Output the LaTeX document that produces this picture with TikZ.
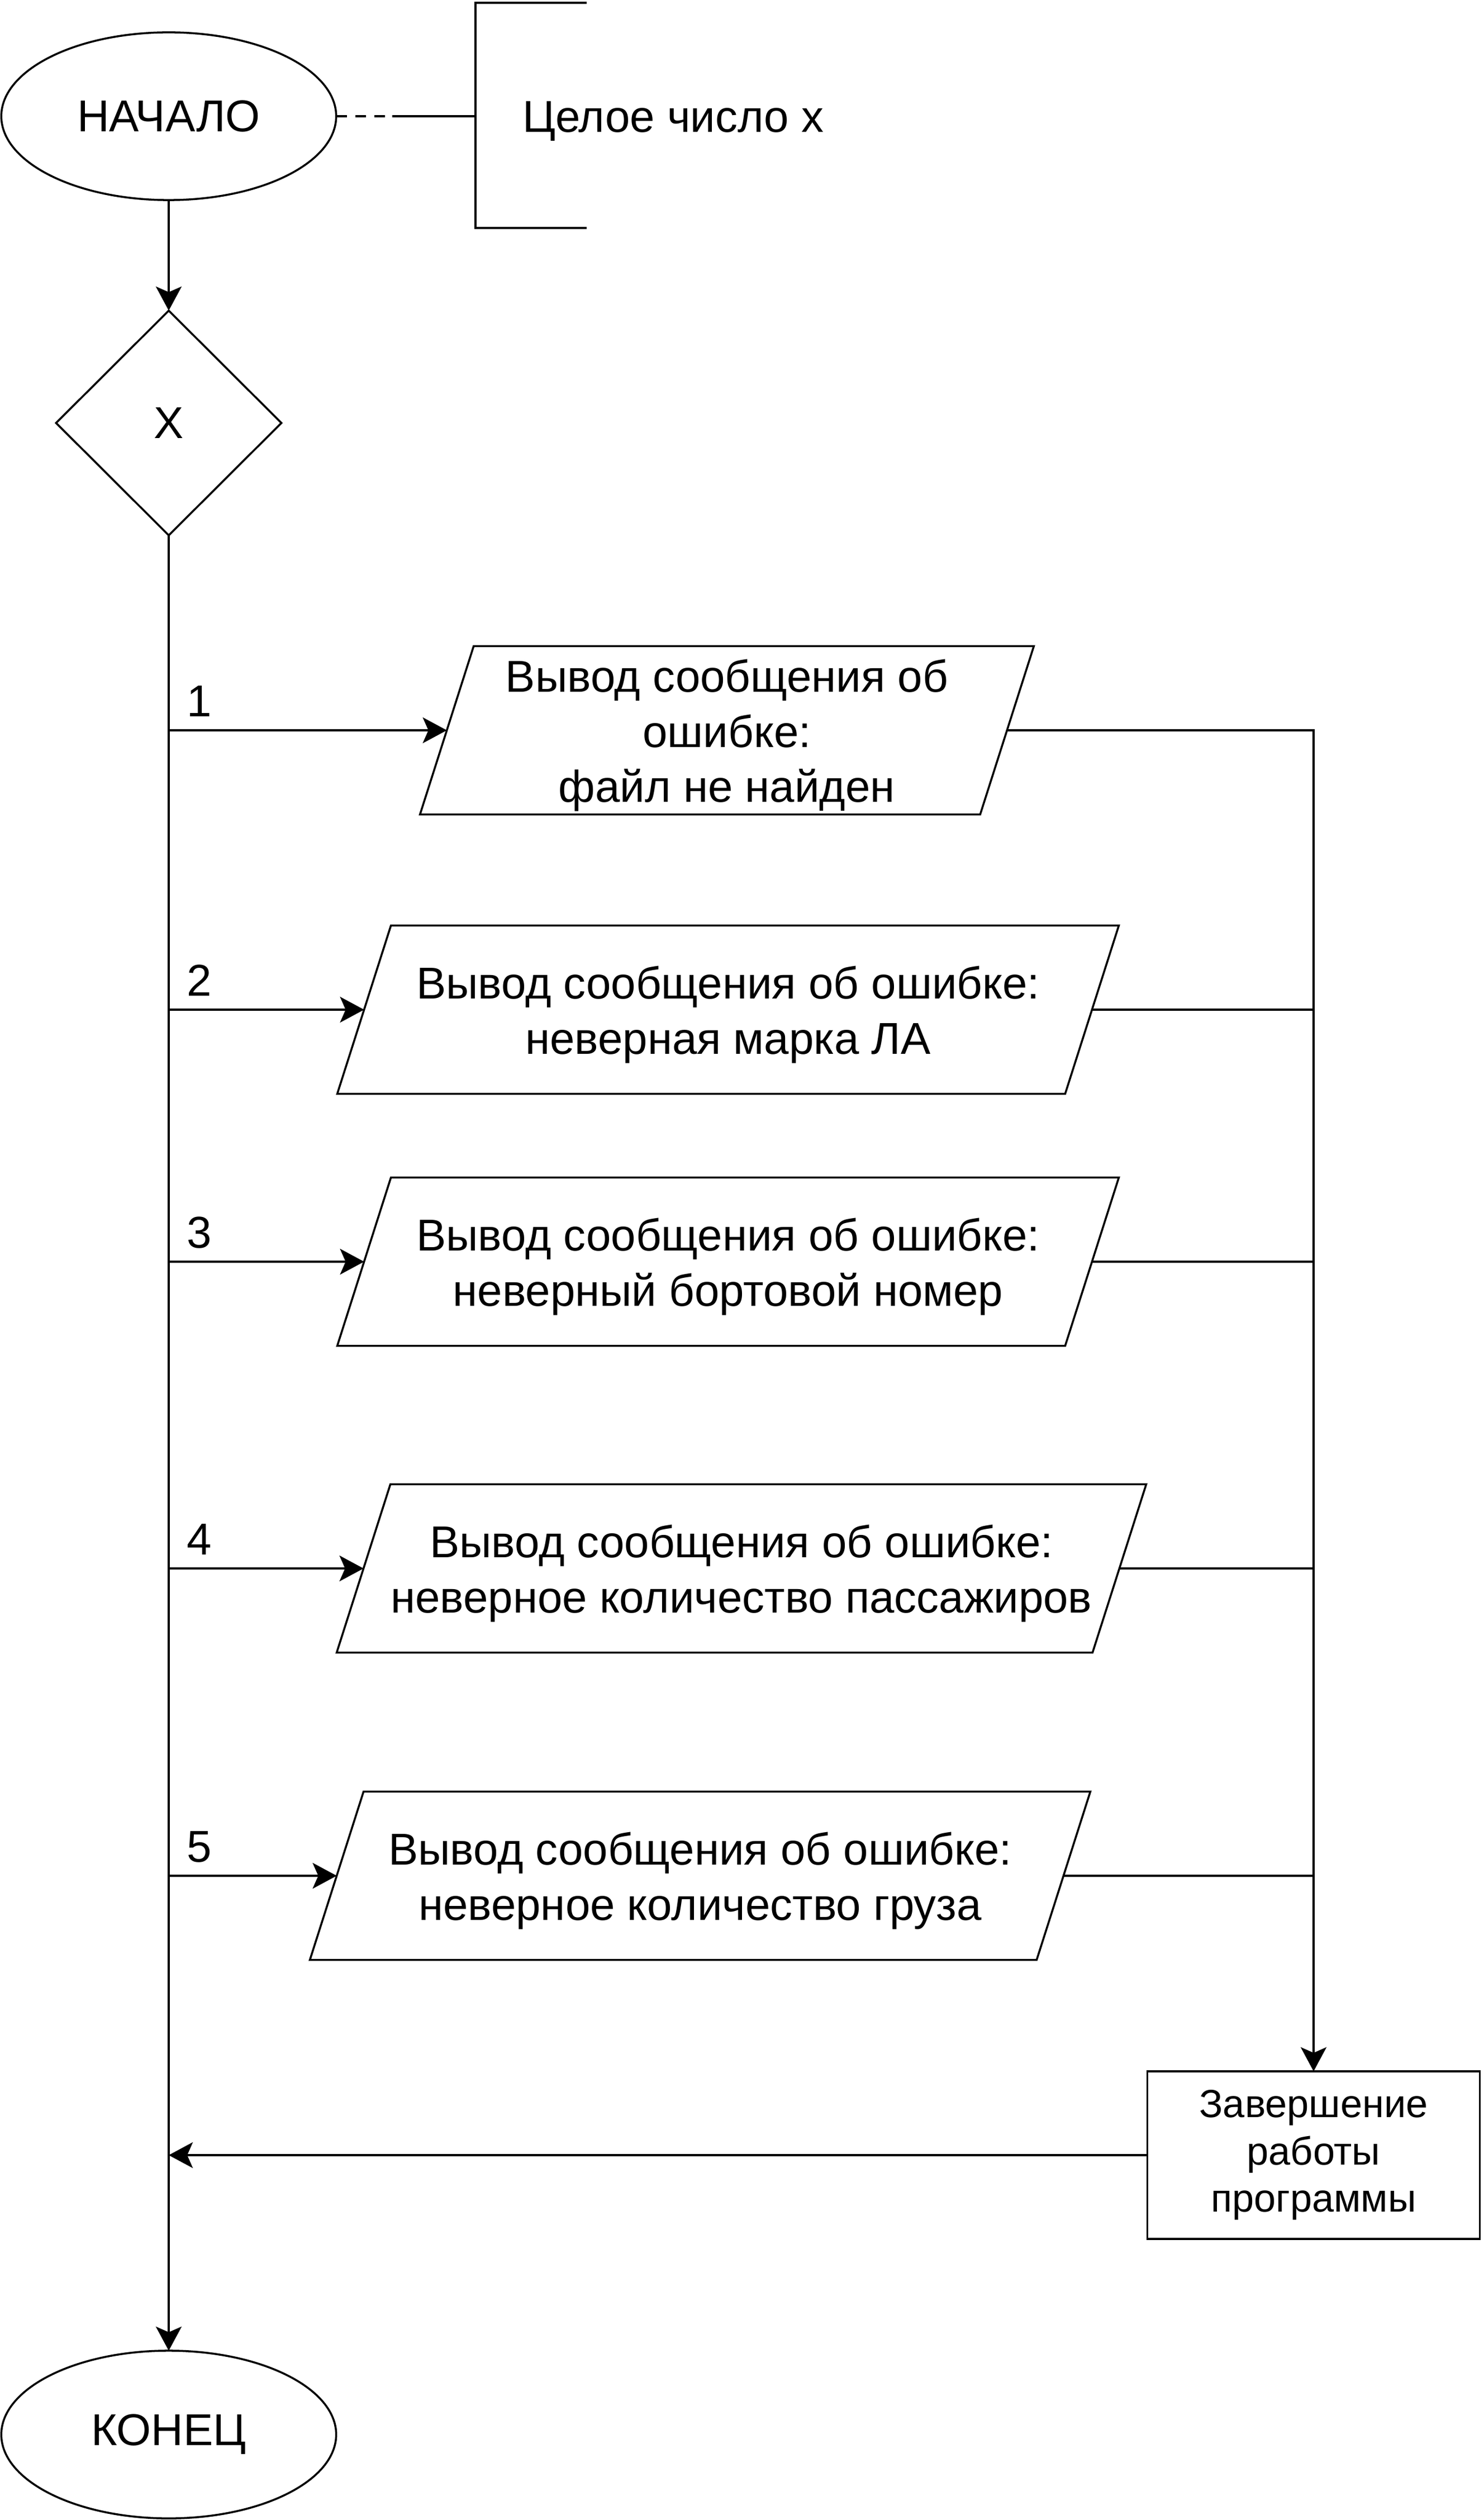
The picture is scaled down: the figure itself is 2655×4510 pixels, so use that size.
\documentclass[tikz,border=0pt]{standalone}
\usepackage{fontspec}
\setmainfont{Liberation Sans}
\usetikzlibrary{shapes.geometric,arrows.meta,calc}
\newcommand\ioTop{\rule{0pt}{0.77cm}}
\newcommand\ioBot{\rule[-0.17cm]{0pt}{0.17cm}}
\begin{document}
\begin{tikzpicture}[x=0.01cm,y=-0.01cm,
  every node/.style={font=\fontsize{22.7pt}{27.9pt}\selectfont, inner sep=0pt, outer sep=0pt},
  ln/.style={line width=1pt, line join=miter},
  arr/.style={ln, -{Stealth[length=4.3mm,width=4.6mm,inset=1.0mm]}},
  term/.style={ellipse, draw, line width=1pt, minimum width=5.99cm, minimum height=3.0cm},
  dec/.style={diamond, draw, line width=1pt, minimum width=4.03cm, minimum height=4.02cm},
  iotext/.style={minimum height=3.01cm, align=center},
  iobox/.style={ln},
  proc/.style={rectangle, draw, line width=1pt, minimum width=5.95cm, minimum height=3.0cm, align=center, font=\fontsize{20pt}{24pt}\selectfont},
  num/.style={anchor=base west},
]
\useasboundingbox (0,0) rectangle (2655,4510);

% start and annotation
\node[term] (start) at (302,208) {НАЧАЛО};
\coordinate (dsh) at (702,208);
\coordinate (brk) at (851,208);
\coordinate (bt) at (1050,5);
\coordinate (bb) at (1050,408);
\draw[ln, dash pattern=on 0.19cm off 0.15cm] (start.east) -- (dsh);
\draw[ln] (dsh) -- (brk);
\draw[ln] (bt) -| (brk) |- (bb);
\node[anchor=base west] (note) at (935,237) {Целое число x};

% decision
\node[dec] (dec) at (302,757) {X};
\draw[arr] (start) -- (dec);

% end
\node[term] (stop) at (302,4357) {КОНЕЦ};

% output blocks
\node[iotext, minimum width=10.02cm] (p1) at (1301,1307) {\ioTop Вывод сообщения об\\ошибке:\\файл не найден\ioBot};
\node[iotext, minimum width=13.02cm] (p2) at (1303,1807) {\ioTop Вывод сообщения об ошибке:\\неверная марка ЛА\ioBot};
\node[iotext, minimum width=13.02cm] (p3) at (1303,2258) {\ioTop Вывод сообщения об ошибке:\\неверный бортовой номер\ioBot};
\node[iotext, minimum width=13.52cm] (p4) at (1327,2807) {\ioTop Вывод сообщения об ошибке:\\неверное количество пассажиров\ioBot};
\node[iotext, minimum width=13.0cm] (p5) at (1253,3357) {\ioTop Вывод сообщения об ошибке:\\неверное количество груза\ioBot};
\foreach \p in {p1,p2,p3,p4,p5}
  \draw[iobox] ([xshift=-0.48cm]\p.south west) -- ([xshift=0.48cm]\p.north west) -- ([xshift=0.48cm]\p.north east) -- ([xshift=-0.48cm]\p.south east) -- cycle;

% finishing block
\node[proc] (fin) at (2351,3857) {Завершение\\работы\\программы};

% main line
\draw[arr] (dec.south) -- (stop.north);

% branches
\foreach \i in {1,...,5} {
  \coordinate (j\i) at (dec.south |- p\i.west);
  \draw[arr] (j\i) -- (p\i.west);
  \node[num] (n\i) at ($(j\i)+(32,-25)$) {\i};
}

% right collector
\draw[arr] (p1.east) -| (fin.north);
\foreach \i in {2,...,5}
  \draw[ln] (p\i.east) -- (p\i.east -| fin.north);

% return
\coordinate (jr) at (fin.west -| dec.south);
\draw[arr] (fin.west) -- (jr);
\end{tikzpicture}
\end{document}
